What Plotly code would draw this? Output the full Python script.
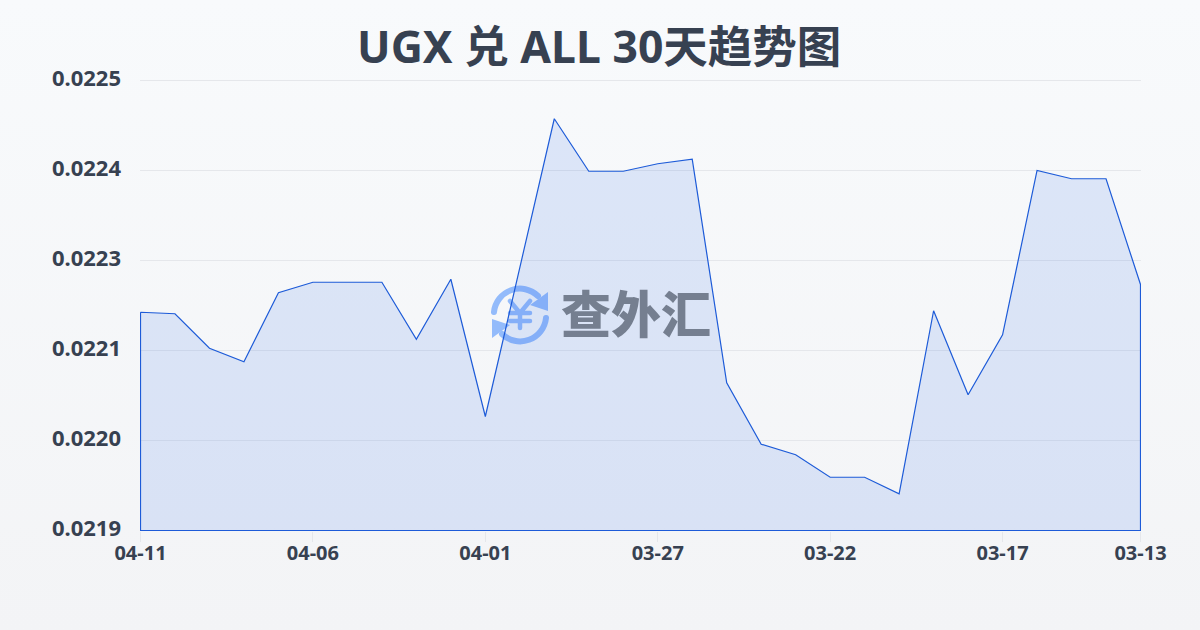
import base64
import plotly.graph_objects as go

dates = ["04-11","04-10","04-09","04-08","04-07","04-06","04-05","04-04","04-03","04-02",
         "04-01","03-31","03-30","03-29","03-28","03-27","03-26","03-25","03-24","03-23",
         "03-22","03-21","03-20","03-19","03-18","03-17","03-16","03-15","03-14","03-13"]
rates = [0.022191,0.022189,0.022143,0.022125,0.022217,0.022231,0.022231,0.022231,0.022155,0.022235,
         0.022052,0.022249,0.022449,0.022379,0.022379,0.022389,0.022395,0.022097,0.022015,0.022001,
         0.021971,0.021971,0.021949,0.022193,0.022081,0.022161,0.022380,0.022369,0.022369,0.022228]
x_ticks = ["04-11","04-06","04-01","03-27","03-22","03-17","03-13"]
y_ticks = [0.0219,0.02202,0.02214,0.02226,0.02238,0.0225]
y_labels = ["0.0219","0.0220","0.0221","0.0223","0.0224","0.0225"]
title = "UGX 兑 ALL 30天趋势图"
brand = "查外汇"

FONT = "Noto Sans, Noto Sans CJK SC"
INK = "#374151"

L, T, W, H = 140, 79, 1001, 452
def px(x): return (x - L) / W
def py(y): return (T + H - y) / H
k = (y_ticks[-1] - y_ticks[0]) / 450
xpad = 0.5 * (len(dates) - 1) / 1000

bg_svg = ('<svg xmlns="http://www.w3.org/2000/svg" width="1200" height="630" preserveAspectRatio="none">'
          '<defs><linearGradient id="g" x1="0" y1="0" x2="0" y2="1">'
          '<stop offset="0" stop-color="#f8fafc"/><stop offset="1" stop-color="#f3f4f6"/>'
          '</linearGradient></defs><rect width="1200" height="630" fill="url(#g)"/></svg>')
icon_svg = ('<svg xmlns="http://www.w3.org/2000/svg" width="64" height="64" viewBox="0 0 64 64">'
            '<g fill="none" stroke="#93bbfb" stroke-width="6" stroke-linecap="round" stroke-linejoin="round">'
            '<path d="M6 29 A26 26 0 0 1 50 13"/><path d="M58 35 A26 26 0 0 1 14 51"/>'
            '<path d="M22 18 L32 30 L42 18 M32 30 V45 M22 30 H42 M22 38 H42" stroke-width="4.5"/></g>'
            '<path d="M60 9 L60 28 L42 22 Z" fill="#93bbfb"/><path d="M4 55 L4 36 L22 42 Z" fill="#93bbfb"/></svg>')

def uri(s):
    return "data:image/svg+xml;base64," + base64.b64encode(s.encode()).decode()

fig = go.Figure()
fig.add_trace(go.Scatter(
    x=dates + [dates[-1], dates[0], dates[0]],
    y=rates + [y_ticks[0], y_ticks[0], rates[0]],
    mode="lines", fill="toself",
    fillcolor="rgba(37,99,235,0.13)",
    line=dict(color="#1d5bd8", width=1.2),
    hoverinfo="skip", showlegend=False, cliponaxis=False,
))
fig.update_layout(
    width=1200, height=630,
    margin=dict(l=L, r=1200 - L - W, t=T, b=630 - T - H),
    paper_bgcolor="#f8fafc", plot_bgcolor="rgba(0,0,0,0)",
    font=dict(family=FONT, color=INK),
    xaxis=dict(type="category", categoryorder="array", categoryarray=dates,
               range=[-xpad, len(dates) - 1 + xpad],
               tickmode="array", tickvals=x_ticks, ticktext=x_ticks,
               ticks="outside", ticklen=10, tickcolor="#e5e7eb", tickwidth=1, ticklabelstandoff=-6,
               showgrid=False, zeroline=False, showline=False,
               tickfont=dict(family=FONT, size=20, color=INK, weight=700)),
    yaxis=dict(range=[y_ticks[0] - 0.5 * k, y_ticks[-1] + 1.5 * k], tickmode="array", tickvals=y_ticks, ticktext=y_labels,
               ticks="", ticklabelstandoff=18, ticklabelshift=-2, showgrid=True, gridcolor="#e5e7eb", gridwidth=1,
               zeroline=False, showline=False,
               tickfont=dict(family=FONT, size=22, color=INK, weight=700)),
    images=[
        dict(source=uri(bg_svg), xref="paper", yref="paper", x=px(0), y=py(0),
             sizex=1200 / W, sizey=630 / H, sizing="stretch", xanchor="left", yanchor="top", layer="below"),
        dict(source=uri(icon_svg), xref="paper", yref="paper", x=px(488), y=py(283),
             sizex=64 / W, sizey=64 / H, sizing="stretch", xanchor="left", yanchor="top", layer="below"),
    ],
    annotations=[
        dict(text=title, xref="paper", yref="paper", x=px(599), y=py(45), xanchor="center", yanchor="middle",
             showarrow=False, font=dict(family=FONT, size=44.5, color=INK, weight=700)),
        dict(text=brand, xref="paper", yref="paper", x=px(636), y=py(314), xanchor="center", yanchor="middle",
             showarrow=False, font=dict(family=FONT, size=50, color="rgba(55,65,81,0.62)", weight=900)),
    ],
)
fig.write_html("out.html", config={"displayModeBar": False}, post_script="document.body.style.margin='0';")
